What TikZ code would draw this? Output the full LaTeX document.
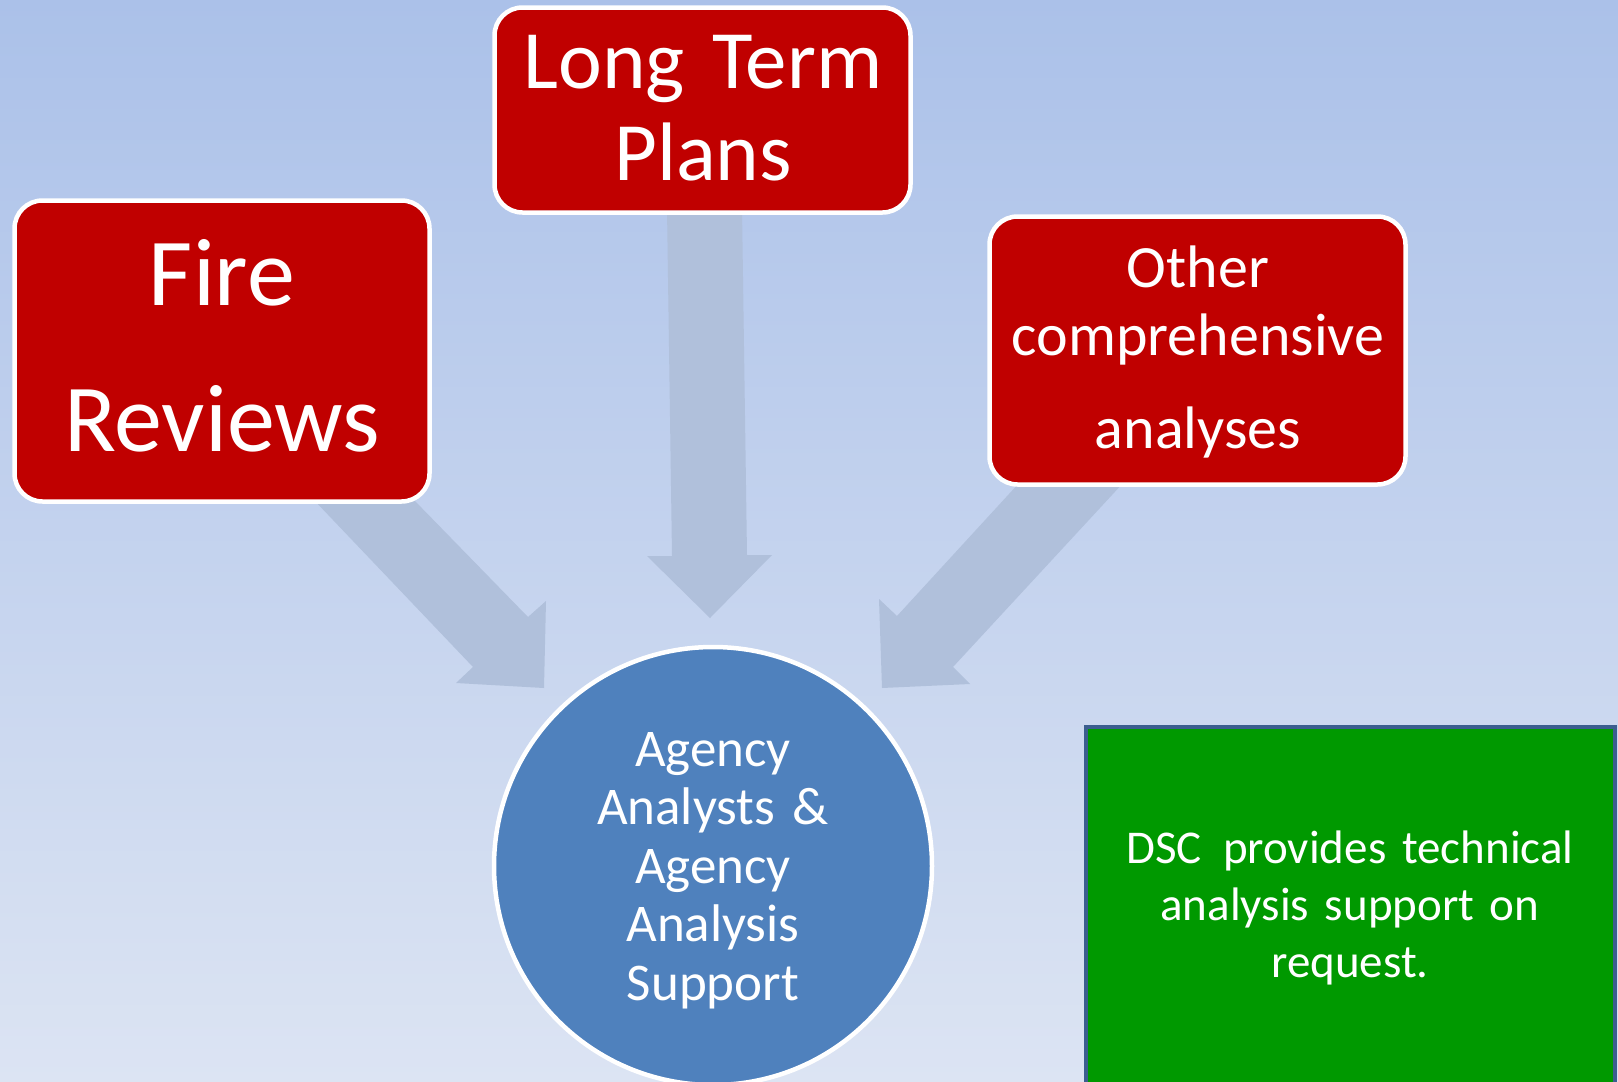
\documentclass[tikz,border=0pt]{standalone}
\usepackage{fontspec}
\setmainfont{Carlito}
\definecolor{bgtop}{RGB}{171,193,233}
\definecolor{bgbot}{RGB}{220,228,243}
\definecolor{boxred}{RGB}{192,0,0}
\definecolor{circblue}{RGB}{79,129,189}
\definecolor{boxgreen}{RGB}{0,153,0}
\definecolor{greenedge}{RGB}{59,94,143}
\definecolor{arrowcol}{RGB}{176,192,219}
\tikzset{
  redbox/.style={draw=white, line width=4.5pt, fill=boxred, rounded corners=28pt,
    rectangle, inner sep=0pt, outer sep=0pt},
  txt/.style={text=white, align=center, anchor=base, inner sep=0pt, text width=520pt},
  blockarrow/.style={fill=arrowcol, draw=none}
}
\begin{document}
\begin{tikzpicture}[x=1pt,y=-1pt]
\useasboundingbox (0,0) rectangle (1618,1082);
\clip (0,0) rectangle (1618,1082);
\shade[top color=bgtop, bottom color=bgbot] (0,0) rectangle (1618,1082);

% block arrows
\fill[blockarrow] (667,208) -- (742,208) -- (747,555) -- (772,555) -- (710,618)
  -- (647,556) -- (672,556) -- cycle;
\fill[blockarrow] (313,499) -- (413,499) -- (528,617) -- (546,601) -- (544,688)
  -- (456,683) -- (473,667) -- cycle;
\fill[blockarrow] (1020,482) -- (1124,482) -- (953,667) -- (970,684) -- (882,688)
  -- (879,599) -- (897,616) -- cycle;

% red boxes
\node[redbox, minimum width=415pt, minimum height=301pt] (fire) at (222,351) {};
\node[redbox, minimum width=416pt, minimum height=205pt] (ltp) at (702.5,110) {};
\node[redbox, minimum width=416pt, minimum height=268pt] (other) at (1197.5,350.5) {};

% circle
\node[circle, draw=white, line width=4.5pt, fill=circblue, minimum size=438pt,
  inner sep=0pt] (agency) at (713,866) {};

% green box
\node[rectangle, draw=greenedge, line width=4pt, fill=boxgreen, inner sep=0pt,
  minimum width=529pt, minimum height=380pt] (dsc) at (1350,917) {};

% texts
\node[txt, font=\fontsize{96}{146}\selectfont] (firet) at (222,305) {Fire\\Reviews};
\node[txt, font=\fontsize{83}{92}\selectfont] (ltpt) at (703,88) {Long Term\\Plans};
\node[txt, font=\fontsize{60}{68}\selectfont] (othert) at (1198,287)
  {Other\\comprehensive\\[25pt]analyses};
\node[txt, font=\fontsize{53}{58.5}\selectfont] (agencyt) at (713,766)
  {Agency\\Analysts \&\\Agency\\Analysis\\Support};
\node[txt, font=\fontsize{47}{57}\selectfont] (dsct) at (1350,863)
  {DSC\hspace{0.45em}provides technical\\analysis support on\\request.};
\end{tikzpicture}
\end{document}
